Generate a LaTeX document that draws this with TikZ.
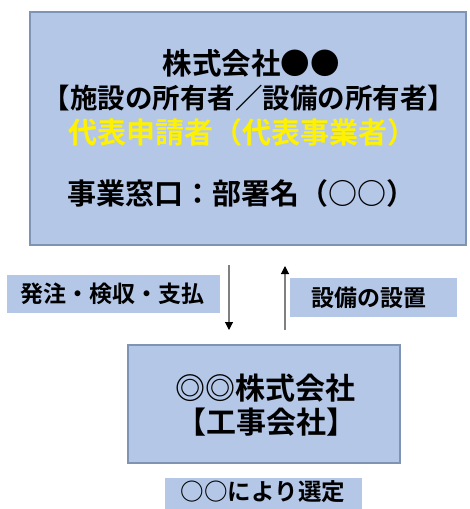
\documentclass[tikz,border=0pt]{standalone}
\usepackage{fontspec}
\setmainfont{Noto Sans CJK JP}[BoldFont={Noto Sans CJK JP Bold}]
\usetikzlibrary{arrows.meta}

\definecolor{boxfill}{HTML}{B4C7E7}
\definecolor{boxline}{HTML}{7F93B5}

\tikzset{
	box/.style = {fill = boxfill, draw = boxline, line width = 1.2pt, inner sep = 0pt},
	tag/.style = {fill = boxfill, inner sep = 0pt},
	txt/.style = {font = \bfseries, inner sep = 0pt},
	flow/.style = {draw = gray, line width = 1.1pt, -{Triangle[black, length = 8pt, width = 8pt]}}
}

\begin{document}
\begin{tikzpicture}[x = 1pt, y = -1pt]
	\useasboundingbox (0, 0) rectangle (469, 509);
	\fill[white] (0, 0) rectangle (469, 509);

	\node[box, minimum width = 436pt, minimum height = 233pt] (owner) at (248, 128.5) {};
	\node[txt, font = \bfseries\fontsize{29.5}{29.5}\selectfont] (ownername) at (251, 63) {株式会社●●};
	\node[txt, font = \bfseries\fontsize{27.5}{27.5}\selectfont] (ownerrole) at (249, 98) {【施設の所有者／設備の所有者】};
	\node[txt, font = \bfseries\fontsize{29}{29}\selectfont, text = yellow] (ownerrep) at (242, 132) {代表申請者（代表事業者）};
	\node[txt, font = \bfseries\fontsize{29}{29}\selectfont] (ownerdesk) at (241, 193) {事業窓口：部署名（○○）};

	\node[tag, minimum width = 213pt, minimum height = 38pt] (order) at (113.5, 294) {};
	\node[txt, font = \bfseries\fontsize{23}{23}\selectfont] (ordertext) at (112, 294) {発注・検収・支払};

	\node[tag, minimum width = 167pt, minimum height = 39pt] (install) at (373.5, 297.5) {};
	\node[txt, font = \bfseries\fontsize{23}{23}\selectfont] (installtext) at (369, 298) {設備の設置};

	\coordinate (downstart) at (229, 265);
	\coordinate (downend) at (229, 330);
	\coordinate (upstart) at (285, 330);
	\coordinate (upend) at (285, 266);
	\draw[flow] (downstart) -- (downend);
	\draw[flow] (upstart) -- (upend);

	\node[box, minimum width = 272pt, minimum height = 118pt] (builder) at (264, 404) {};
	\node[txt, font = \bfseries\fontsize{30}{30}\selectfont] (buildername) at (265, 388) {◎◎株式会社};
	\node[txt, font = \bfseries\fontsize{30}{30}\selectfont] (builderrole) at (266, 422) {【工事会社】};

	\node[tag, minimum width = 197pt, minimum height = 33pt] (select) at (263.5, 494.5) {};
	\node[txt, font = \bfseries\fontsize{23.5}{23.5}\selectfont] (selecttext) at (263, 492) {○○により選定};
\end{tikzpicture}
\end{document}
